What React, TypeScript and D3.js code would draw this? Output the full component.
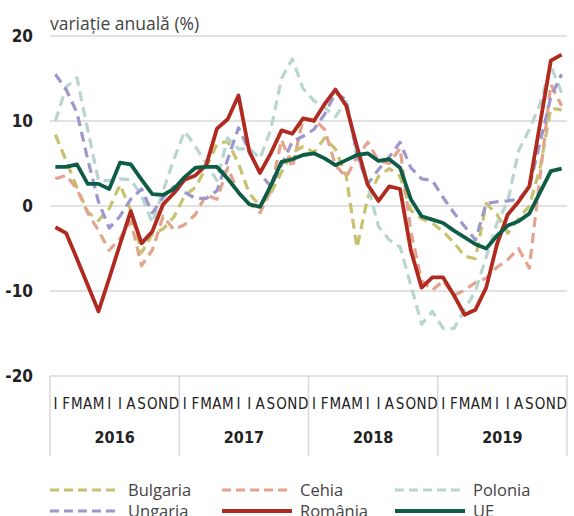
import React from 'react';
import * as d3 from 'd3';

// luni (initiale romanesti) si ani pe axa X
const months = ['I', 'F', 'M', 'A', 'M', 'I', 'I', 'A', 'S', 'O', 'N', 'D'];
const years = ['2016', '2017', '2018', '2019'];
const yTicks = [-20, -10, 0, 10, 20];

// variatie anuala (%), ian 2016 - dec 2019
const bulgaria = [
  8.4, 5.3, 2.2, -0.7, -1.7, -0.3, 2.5, -0.5, -5.5, -3.3, -2.7, -1.3,
  1.2, 2.2, 4.5, 7.3, 7.6, 5.0, 1.5, 0.0, 1.5, 4.0, 6.3, 7.0,
  6.3, 8.0, 6.7, 3.5, -4.9, 1.0, 3.5, 4.4, 3.5, -0.5, -1.5, -2.0,
  -3.0, -4.3, -5.9, -6.2, 0.3, -1.0, -3.2, -1.5, 0.0, 4.5, 11.5, 11.3,
];
const cehia = [
  3.2, 3.6, 2.0, -0.8, -2.9, -5.2, -3.8, -1.8, -7.0, -5.2, -1.2, -2.8,
  -2.2, -1.0, 1.3, 0.8, 4.5, 1.5, 0.3, -0.8, 1.8, 7.8, 4.5, 10.3,
  10.2, 9.0, 4.8, 3.4, 5.8, 7.5, 5.3, 5.0, 6.8, -3.0, -8.8, -9.9,
  -8.8, -10.5, -9.9, -9.0, -8.5, -7.2, -6.3, -5.0, -7.3, 3.5, 14.3, 11.8,
];
const polonia = [
  10.0, 14.0, 15.1, 9.0, 3.0, 3.0, 3.2, 3.1, 1.2, -2.0, 1.8, 5.5,
  8.8, 7.0, 5.0, 3.0, 8.0, 6.7, 6.8, 5.6, 9.0, 15.0, 17.3, 13.8,
  12.4, 11.6, 10.5, 12.3, 6.0, 2.4, -2.4, -4.0, -4.8, -9.3, -13.9, -12.4,
  -14.4, -14.4, -12.2, -10.0, -6.0, -2.0, 0.5, 6.5, 9.0, 12.0, 16.5, 13.3,
];
const ungaria = [
  15.5, 13.7, 11.0, 5.5, 0.5, -2.6, -1.2, 0.8, 2.0, -0.8, 1.0, 2.3,
  1.6, 0.9, 0.9, 1.8, 5.5, 9.2, 6.5, 3.8, 2.3, 4.8, 7.6, 8.2,
  9.0, 10.8, 13.3, 12.5, 6.0, 2.6, 4.3, 5.8, 7.5, 4.5, 3.2, 3.0,
  1.0, -0.8, -2.4, -4.0, 0.3, 0.5, 0.6, 0.8, 2.2, 7.5, 12.8, 15.5,
];
const romania = [
  -2.5, -3.2, -6.2, -9.3, -12.4, -8.5, -4.5, -0.6, -4.4, -3.0, 0.2, 1.5,
  3.1, 3.6, 4.8, 9.1, 10.2, 13.0, 6.4, 3.9, 6.2, 8.9, 8.5, 10.3,
  10.0, 12.0, 13.7, 11.8, 7.0, 2.5, 0.6, 2.3, 2.0, -5.2, -9.6, -8.4,
  -8.4, -10.5, -12.8, -12.2, -9.6, -4.5, -1.0, 0.5, 2.3, 9.7, 17.1, 17.8,
];
const ue = [
  4.6, 4.6, 4.9, 2.6, 2.6, 2.0, 5.1, 4.9, 3.1, 1.4, 1.3, 2.0,
  3.4, 4.5, 4.6, 4.6, 3.2, 1.6, 0.2, -0.1, 2.4, 5.2, 5.5, 6.0,
  6.2, 5.6, 4.8, 5.4, 6.0, 6.2, 5.3, 5.5, 4.5, 0.8, -1.2, -1.6,
  -2.0, -2.9, -3.7, -4.5, -5.0, -3.5, -2.3, -1.8, -0.9, 1.6, 4.1, 4.4,
];

const series = [
  { name: 'Bulgaria', values: bulgaria, color: '#c6c270', dash: '10,6', width: 3.2 },
  { name: 'Cehia', values: cehia, color: '#e3a38c', dash: '10,6', width: 3.2 },
  { name: 'Polonia', values: polonia, color: '#b8d5d0', dash: '10,6', width: 3.2 },
  { name: 'Ungaria', values: ungaria, color: '#9c98cd', dash: '10,6', width: 3.2 },
  { name: 'România', values: romania, color: '#b02a1f', dash: null, width: 3.8 },
  { name: 'UE', values: ue, color: '#0d5c45', dash: null, width: 3.8 },
];

const W = 574;
const H = 516;
const margin = { top: 36, right: 7, bottom: 140, left: 50 };
const condensed = "'Liberation Sans Narrow', 'DejaVu Sans Condensed', 'Roboto', sans-serif";
const regular = "'Open Sans', 'Noto Sans', sans-serif";

export default function App() {
  const periods = years.flatMap((yr) => months.map((m, i) => `${yr}-${i}`));

  const x = d3.scaleBand().domain(periods).range([margin.left, W - margin.right]).padding(0);
  const y = d3.scaleLinear().domain([-20, 20]).range([H - margin.bottom, margin.top]);

  const bw = x.bandwidth();
  const line = d3
    .line<number>()
    .x((_, i) => (x(periods[i]) ?? 0) + bw / 2)
    .y((d) => y(d));

  const yearWidth = bw * 12;
  const axisTop = y(-20);

  const legendCols = [50, 222, 395];

  return (
    <svg width={W} height={H} style={{ position: 'absolute', left: 0, top: 0, background: '#fff' }}>
      <text x={margin.left} y={30} fontFamily={regular} fontSize={17.5} fill="#444">
        variație anuală (%)
      </text>

      {yTicks.map((t) => (
        <g key={t}>
          <line x1={margin.left} x2={W - margin.right} y1={y(t)} y2={y(t)} stroke="#d9d9d9" strokeWidth={1.5} />
          <text x={33} y={y(t)} dy="0.35em" textAnchor="end" fontFamily={condensed} fontWeight="bold" fontSize={17} fill="#222">
            {t}
          </text>
        </g>
      ))}

      {/* separatoare ani */}
      {d3.range(years.length + 1).map((k) => (
        <line
          key={k}
          x1={margin.left + k * yearWidth}
          x2={margin.left + k * yearWidth}
          y1={axisTop}
          y2={456}
          stroke="#d9d9d9"
          strokeWidth={1.5}
        />
      ))}

      {periods.map((p, i) => (
        <text
          key={p}
          x={(x(p) ?? 0) + bw / 2}
          y={404}
          dy="0.35em"
          textAnchor="middle"
          fontFamily={condensed}
          fontSize={15}
          fill="#222"
        >
          {months[i % 12]}
        </text>
      ))}

      {years.map((yr, k) => (
        <text
          key={yr}
          x={margin.left + (k + 0.5) * yearWidth}
          y={437}
          dy="0.35em"
          textAnchor="middle"
          fontFamily={condensed}
          fontWeight="bold"
          fontSize={16}
          fill="#222"
        >
          {yr}
        </text>
      ))}

      {series.map((s) => (
        <path
          key={s.name}
          d={line(s.values) ?? ''}
          fill="none"
          stroke={s.color}
          strokeWidth={s.width}
          strokeDasharray={s.dash ?? undefined}
          strokeLinejoin="round"
        />
      ))}

      {series.map((s, i) => {
        const lx = legendCols[i % 3];
        const ly = i < 3 ? 490 : 511;
        return (
          <g key={'lg' + s.name}>
            <line
              x1={lx}
              x2={lx + 70}
              y1={ly}
              y2={ly}
              stroke={s.color}
              strokeWidth={s.dash ? 3.2 : 4}
              strokeDasharray={s.dash ? '9,5' : undefined}
            />
            <text x={lx + 78} y={ly} dy="0.35em" fontFamily={regular} fontSize={16.5} fill="#444">
              {s.name}
            </text>
          </g>
        );
      })}
    </svg>
  );
}
